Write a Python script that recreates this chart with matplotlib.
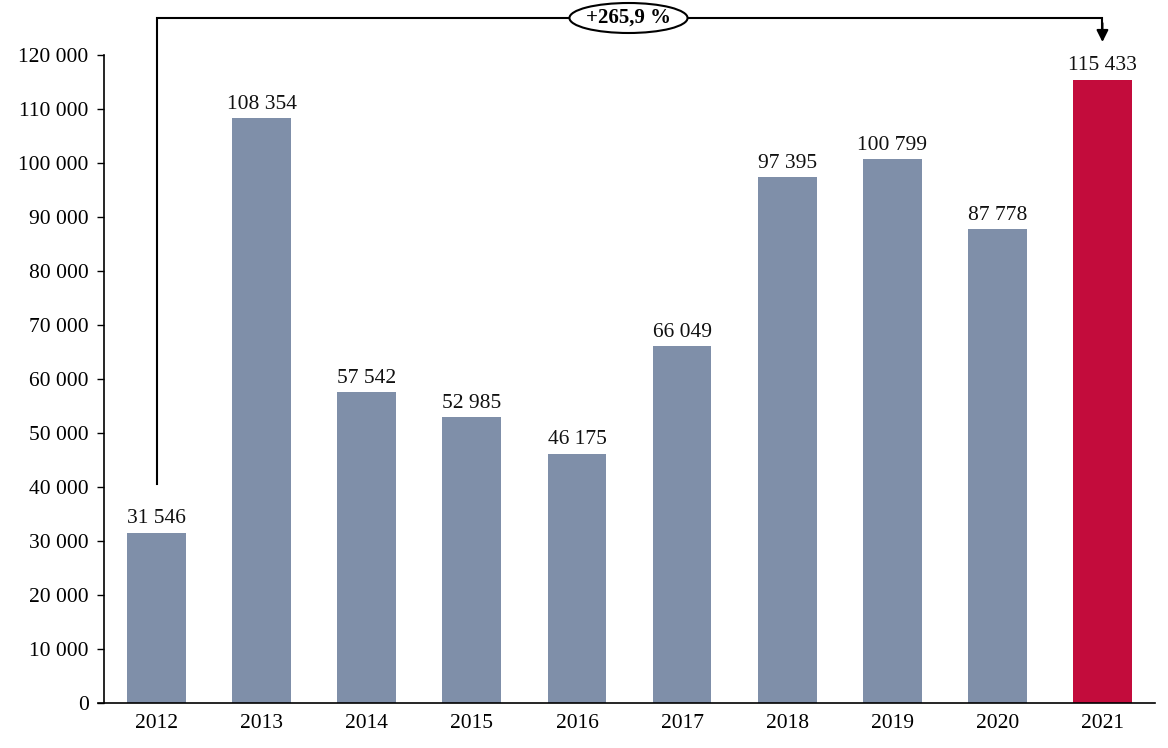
import matplotlib
matplotlib.use("Agg")
import matplotlib.pyplot as plt
from matplotlib.patches import Ellipse

years = ["2012", "2013", "2014", "2015", "2016", "2017", "2018", "2019", "2020", "2021"]
values = [31546, 108354, 57542, 52985, 46175, 66049, 97395, 100799, 87778, 115433]
change_label = "+265,9 %"
yticks = list(range(0, 120001, 10000))

plt.rcParams['font.family'] = ['Liberation Serif', 'DejaVu Serif']

fig = plt.figure(figsize=(11.68, 7.48), dpi=100)
ax = fig.add_axes([104/1168, 1-703/748, (1155-104)/1168, (703-55)/748])

colors = ["#7F8FA9"] * (len(values) - 1) + ["#C30C3C"]
x = list(range(len(values)))
ax.bar(x, values, width=0.56, color=colors, zorder=2)

def fmt(v):
    return f"{v:,}".replace(",", " ")

for xi, v in zip(x, values):
    ax.annotate(fmt(v), (xi, v), xytext=(0, 3), textcoords="offset points",
                ha="center", va="bottom", fontsize=15.5, color="#111111")

ax.set_xlim(-0.5, len(values) - 0.5)
ax.set_ylim(0, 120000)
ax.set_yticks(yticks)
ax.set_yticklabels([fmt(t) for t in yticks], fontsize=15.5)
ax.set_xticks(x)
ax.set_xticklabels(years, fontsize=15.5)
ax.tick_params(axis="x", length=0, pad=8)
ax.tick_params(axis="y", length=5, width=1, pad=6, direction="out")
for s in ["top", "right"]:
    ax.spines[s].set_visible(False)
ax.spines["left"].set_linewidth(1.2)
ax.spines["bottom"].set_linewidth(1.2)
ax.spines["bottom"].set_bounds(-0.5 - 6/105, len(values) - 0.5)

# bracket annotation (in data coords for x, axes-fraction converted for y)
ytop = 120000 + (55 - 18) / 648 * 120000
ystart = values[0] + 9000
yarrow = 120000 + (55 - 42) / 648 * 120000
ax.plot([x[0], x[0], x[-1], x[-1]], [ystart, ytop, ytop, yarrow + 2500],
        color="black", lw=1.5, clip_on=False, zorder=3, solid_joinstyle="miter")
ax.annotate("", xy=(x[-1], yarrow), xytext=(x[-1], yarrow + 3500),
            arrowprops=dict(arrowstyle="-|>,head_width=0.35,head_length=0.7",
                            color="black", lw=1.5, shrinkA=0, shrinkB=0),
            annotation_clip=False)
xmid = (628 - 104) / 105 - 0.5
ell = Ellipse((xmid, ytop), width=118/105, height=30/648*120000,
              facecolor="white", edgecolor="black", lw=1.5, clip_on=False, zorder=4)
ax.add_patch(ell)
ax.text(xmid, ytop, change_label, ha="center", va="center", fontsize=15,
        fontweight="bold", zorder=5, clip_on=False)

fig.savefig("out.png", dpi=100)
